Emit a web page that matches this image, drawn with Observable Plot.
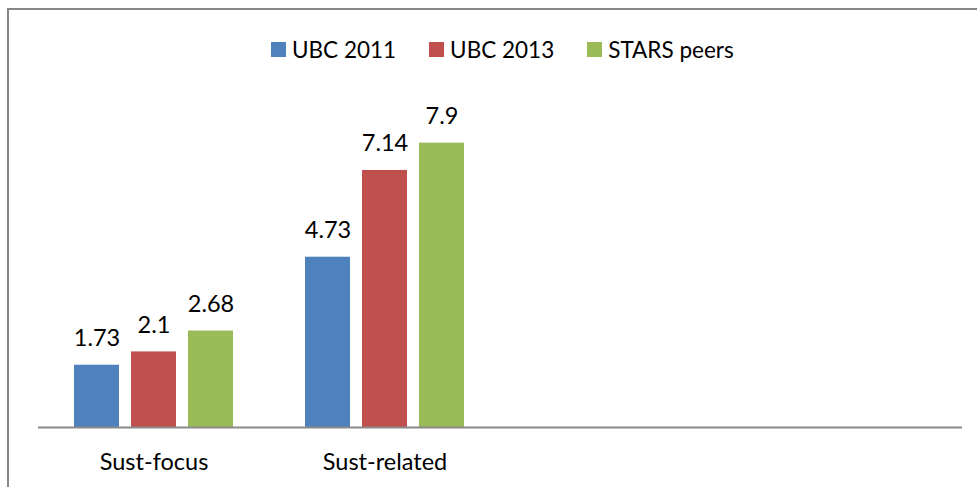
<!DOCTYPE html>
<html>
<head>
<meta charset="utf-8">
<script src="https://cdn.jsdelivr.net/npm/d3@7"></script>
<script src="https://cdn.jsdelivr.net/npm/@observablehq/plot@0.6"></script>
<style>
  html, body { margin: 0; padding: 0; background: #fff; overflow: hidden; }
  #wrap { position: relative; width: 977px; height: 487px; font-family: Lato, "Open Sans", sans-serif; }
  #frame { position: absolute; left: 7px; top: 8px; width: 1000px; height: 520px; border: 2px solid #878787; box-sizing: border-box; pointer-events: none; }
  #legend { position: absolute; left: 271px; top: 36px; display: flex; align-items: center; gap: 33px; font-size: 22.5px; color: #000; }
  #legend .item { display: flex; align-items: center; }
  #legend .sw { width: 15px; height: 15px; margin-right: 6px; }
  #chart { position: absolute; left: 0; top: 0; }
</style>
</head>
<body>
<div id="wrap">
  <div id="chart"></div>
  <div id="frame"></div>
  <div id="legend"></div>
</div>
<script>
// Data
const categories = ["Sust-focus", "Sust-related"];
const series = ["UBC 2011", "UBC 2013", "STARS peers"];
const ubc2011 = [1.73, 4.73];
const ubc2013 = [2.1, 7.14];
const starsPeers = [2.68, 7.9];
const colors = ["#4F81BD", "#C0504D", "#9BBB59"];

const seriesValues = [ubc2011, ubc2013, starsPeers];
const data = [];
categories.forEach((c, i) => {
  series.forEach((s, j) => {
    data.push({category: c, series: s, value: seriesValues[j][i]});
  });
});

// Excel leaves two empty category slots on the right
const fxDomain = [...categories, "__empty1", "__empty2"];

const chart = Plot.plot({
  width: 977,
  height: 487,
  marginLeft: 37,
  marginRight: 14,
  marginTop: 103,
  marginBottom: 60,
  style: {fontFamily: "Lato, 'Open Sans', sans-serif", fontSize: "23px", color: "#000", background: "transparent"},
  fx: {domain: fxDomain, padding: 0, label: null, axis: null},
  x: {domain: series, paddingInner: 12 / 58, paddingOuter: 0.597, axis: null},
  y: {domain: [0, 9], axis: null},
  color: {domain: series, range: colors},
  marks: [
    Plot.barY(data, {fx: "category", x: "series", y: "value", fill: "series"}),
    Plot.text(data, {fx: "category", x: "series", y: "value", text: d => String(d.value), dy: -19, lineAnchor: "bottom", fontSize: 23.5, fill: "#000"}),
    Plot.ruleY(fxDomain, {fx: d => d, y: () => 0, stroke: "#8a8a8a", strokeWidth: 2}),
    Plot.axisFx({anchor: "bottom", tickSize: 0, tickPadding: 26, fontSize: 23.5, label: null,
      tickFormat: d => categories.includes(d) ? d : ""})
  ]
});
document.getElementById("chart").appendChild(chart);

// Legend
const legend = document.getElementById("legend");
series.forEach((s, i) => {
  const item = document.createElement("div");
  item.className = "item";
  const sw = document.createElement("div");
  sw.className = "sw";
  sw.style.background = colors[i];
  const t = document.createElement("span");
  t.textContent = s;
  item.appendChild(sw);
  item.appendChild(t);
  legend.appendChild(item);
});
</script>
</body>
</html>
